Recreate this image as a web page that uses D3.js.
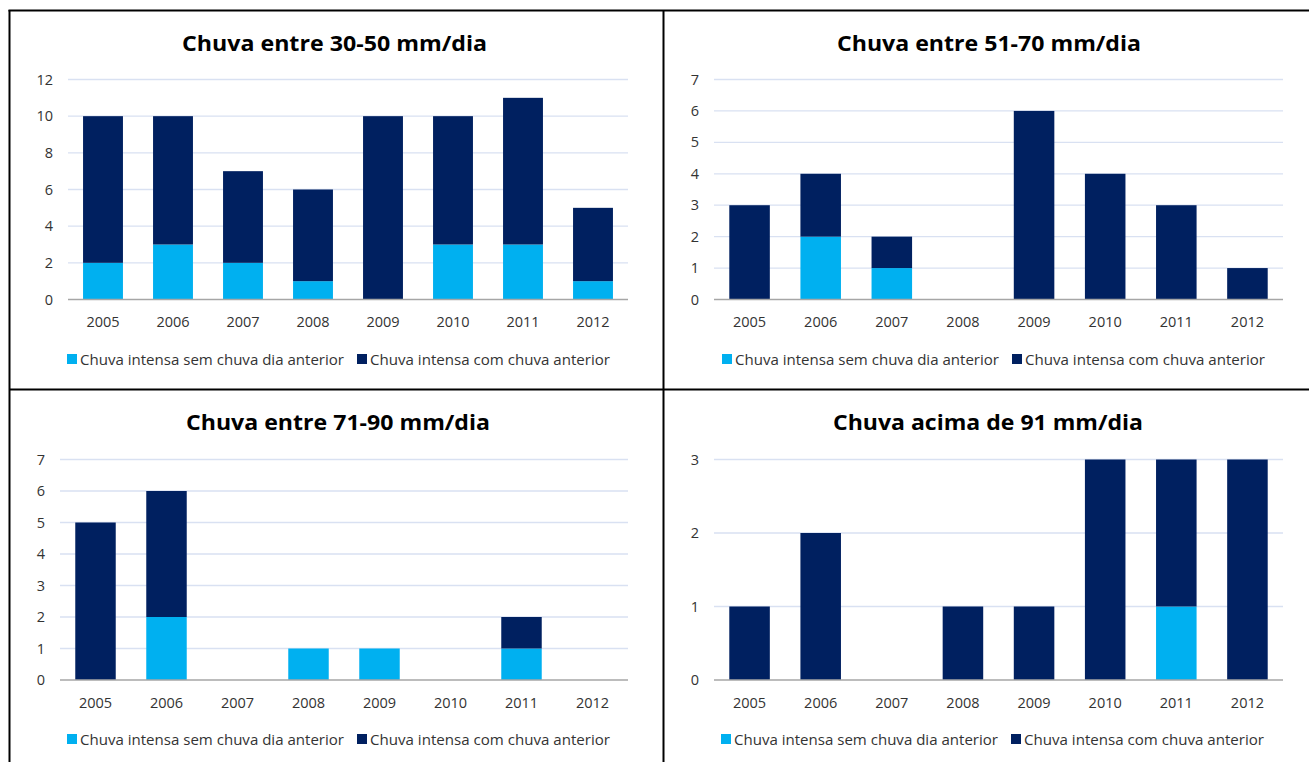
<!DOCTYPE html>
<html>
<head>
<meta charset="utf-8">
<script src="https://cdn.jsdelivr.net/npm/d3@7"></script>
<style>
  html, body { margin: 0; padding: 0; background: #fff; }
  svg { display: block; }
  text { font-family: "Open Sans", "Noto Sans", sans-serif; }
</style>
</head>
<body>
<svg id="chart" width="1309" height="762"></svg>
<script>
// ---------- DATA ----------
const years = ["2005", "2006", "2007", "2008", "2009", "2010", "2011", "2012"];
const seriesNames = ["Chuva intensa sem chuva dia anterior", "Chuva intensa com chuva anterior"];
const titles = ["Chuva entre 30-50 mm/dia", "Chuva entre 51-70 mm/dia", "Chuva entre 71-90 mm/dia", "Chuva acima de 91 mm/dia"];

const sem3050 = [2, 3, 2, 1, 0, 3, 3, 1];
const com3050 = [8, 7, 5, 5, 10, 7, 8, 4];
const sem5170 = [0, 2, 1, 0, 0, 0, 0, 0];
const com5170 = [3, 2, 1, 0, 6, 4, 3, 1];
const sem7190 = [0, 2, 0, 1, 1, 0, 1, 0];
const com7190 = [5, 4, 0, 0, 0, 0, 1, 0];
const sem91 = [0, 0, 0, 0, 0, 0, 1, 0];
const com91 = [1, 2, 0, 1, 1, 3, 2, 3];

const ticks3050 = [0, 2, 4, 6, 8, 10, 12];
const ticks5170 = [0, 1, 2, 3, 4, 5, 6, 7];
const ticks7190 = [0, 1, 2, 3, 4, 5, 6, 7];
const ticks91 = [0, 1, 2, 3];

// ---------- LAYOUT ----------
const colors = ["#00B0F0", "#002060"];
const panels = [
  { title: titles[0], sem: sem3050, com: com3050, ticks: ticks3050,
    x0: 68, x1: 628, yTop: 79.5, yBot: 299.5, titleX: 334.5, titleY: 42, titleW: 305,
    legX: 67, legY: 359 },
  { title: titles[1], sem: sem5170, com: com5170, ticks: ticks5170,
    x0: 714, x1: 1283, yTop: 79.5, yBot: 299.5, titleX: 989, titleY: 42, titleW: 304,
    legX: 722, legY: 359 },
  { title: titles[2], sem: sem7190, com: com7190, ticks: ticks7190,
    x0: 60, x1: 628, yTop: 459.5, yBot: 680, titleX: 338, titleY: 421, titleW: 304,
    legX: 67, legY: 739 },
  { title: titles[3], sem: sem91, com: com91, ticks: ticks91,
    x0: 714, x1: 1283, yTop: 459.5, yBot: 680, titleX: 988, titleY: 421, titleW: 310,
    legX: 721, legY: 739 }
];

const svg = d3.select("#chart");

// Frame lines
const frame = svg.append("g").attr("stroke", "#000").attr("stroke-width", 2);
frame.append("line").attr("x1", 8.5).attr("x2", 1309).attr("y1", 10.5).attr("y2", 10.5);
frame.append("line").attr("x1", 9.5).attr("x2", 9.5).attr("y1", 10).attr("y2", 762);
frame.append("line").attr("x1", 663.5).attr("x2", 663.5).attr("y1", 10).attr("y2", 762);
frame.append("line").attr("x1", 9).attr("x2", 1309).attr("y1", 389.5).attr("y2", 389.5);

panels.forEach(p => {
  const g = svg.append("g");
  const rows = years.map((yr, i) => ({ year: yr, sem: p.sem[i], com: p.com[i] }));
  const stack = d3.stack().keys(["sem", "com"])(rows);

  const x = d3.scaleBand().domain(years).range([p.x0, p.x1]).paddingInner(0.43).paddingOuter(0.215);
  const yMax = p.ticks[p.ticks.length - 1];
  const y = d3.scaleLinear().domain([0, yMax]).range([p.yBot, p.yTop]);

  // Gridlines
  g.append("g").selectAll("line").data(p.ticks.filter(t => t > 0)).join("line")
    .attr("x1", p.x0).attr("x2", p.x1)
    .attr("y1", d => y(d)).attr("y2", d => y(d))
    .attr("stroke", "#D9E1F2").attr("stroke-width", 1.3);

  // Bars
  g.append("g").selectAll("g").data(stack).join("g")
    .attr("fill", (d, i) => colors[i])
    .selectAll("rect").data(d => d).join("rect")
    .attr("x", d => x(d.data.year))
    .attr("width", x.bandwidth())
    .attr("y", d => y(d[1]))
    .attr("height", d => y(d[0]) - y(d[1]));

  // Baseline
  g.append("line").attr("x1", p.x0).attr("x2", p.x1)
    .attr("y1", y(0)).attr("y2", y(0))
    .attr("stroke", "#A6A6A6").attr("stroke-width", 1.5);

  // Y axis
  const yAxis = g.append("g").attr("transform", `translate(${p.x0},0)`)
    .call(d3.axisLeft(y).tickValues(p.ticks).tickSize(0).tickPadding(15).tickFormat(d3.format("d")));
  yAxis.select(".domain").remove();
  yAxis.selectAll("text").attr("font-size", 14.5).attr("fill", "#333333")
    .style("font-family", "'Open Sans', sans-serif");

  // X axis
  const xAxis = g.append("g").attr("transform", `translate(0,${p.yBot})`)
    .call(d3.axisBottom(x).tickSize(0).tickPadding(17.5));
  xAxis.select(".domain").remove();
  xAxis.selectAll("text").attr("font-size", 14.5).attr("fill", "#333333")
    .style("font-family", "'Open Sans', sans-serif");

  // Title
  g.append("text").attr("x", p.titleX).attr("y", p.titleY)
    .attr("text-anchor", "middle").attr("dominant-baseline", "central")
    .attr("font-size", 21.5).attr("font-weight", "bold").attr("fill", "#000")
    .attr("textLength", p.titleW).attr("lengthAdjust", "spacingAndGlyphs")
    .text(p.title);

  // Legend
  const legW = [264, 240];
  let lx = p.legX;
  seriesNames.forEach((name, i) => {
    g.append("rect").attr("x", lx).attr("y", p.legY - 5).attr("width", 10).attr("height", 10)
      .attr("fill", colors[i]);
    g.append("text").attr("x", lx + 13).attr("y", p.legY)
      .attr("dominant-baseline", "central")
      .attr("font-size", 14).attr("fill", "#333333")
      .attr("textLength", legW[i]).attr("lengthAdjust", "spacingAndGlyphs")
      .text(name);
    lx += 13 + legW[i] + 13;
  });
});
</script>
</body>
</html>
